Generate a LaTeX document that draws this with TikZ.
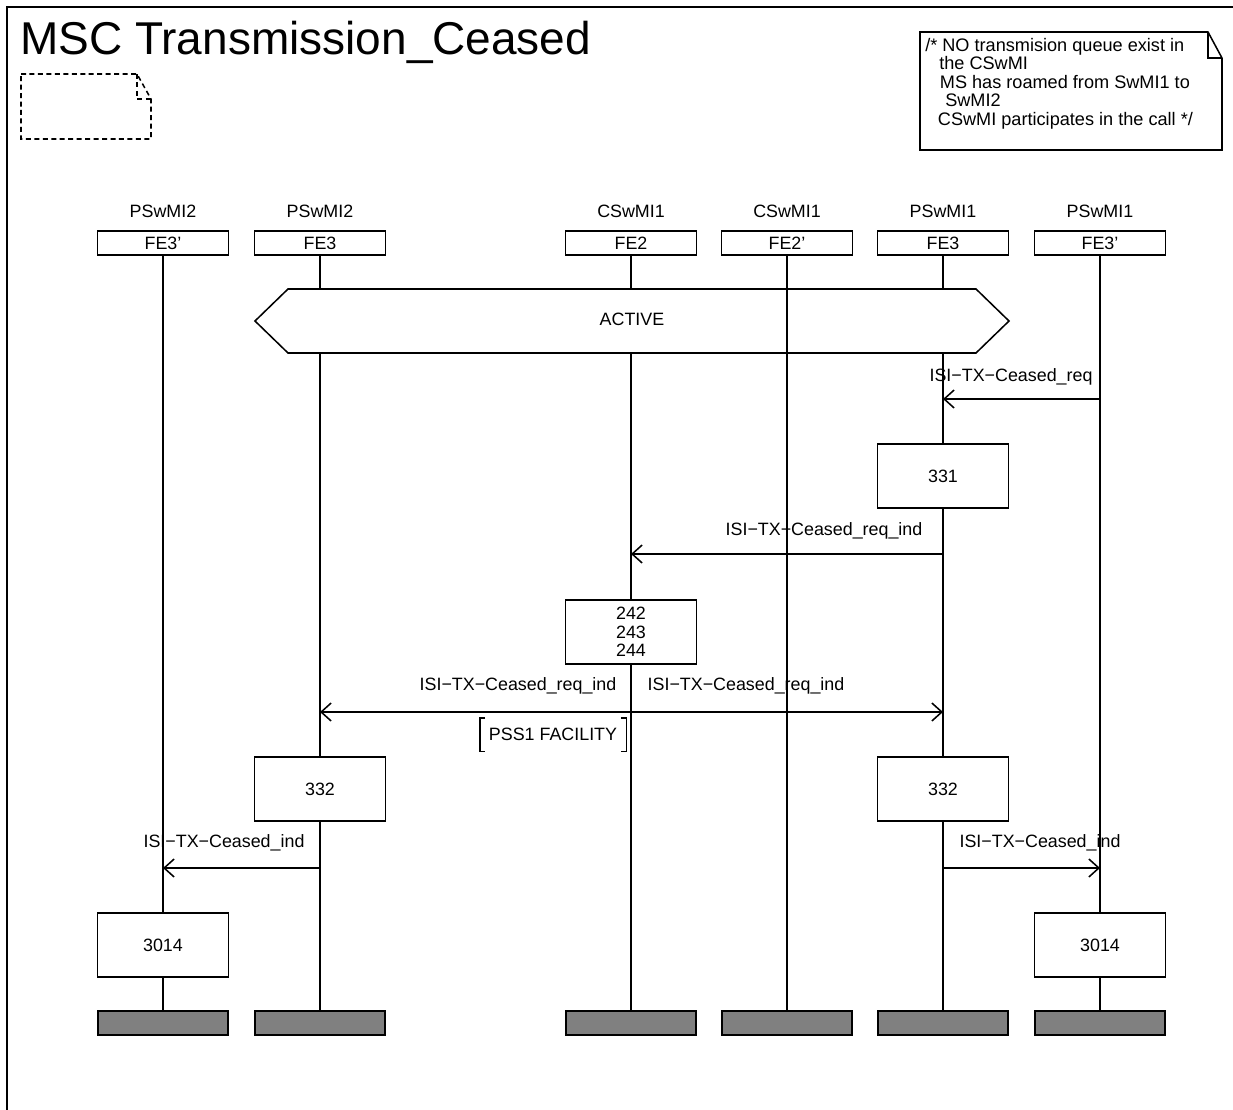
\documentclass[tikz,border=0pt]{standalone}
\usepackage{fontspec}
\setmainfont{Liberation Sans}
\usetikzlibrary{arrows.meta}
\begin{document}
\begin{tikzpicture}[x=0.75pt,y=-0.75pt,
  every node/.style={font=\fontsize{13.4}{13.8}\selectfont, inner sep=0pt},
  ln/.style={line width=1.15pt},
  hdr/.style={draw, line width=1.15pt, minimum width=98pt, minimum height=18pt},
  proc/.style={draw, line width=1.15pt, fill=white, minimum width=98pt, minimum height=48pt, align=center},
  endbox/.style={draw, line width=1.3pt, fill=endgray, minimum width=98pt, minimum height=18pt},
  lbl/.style={anchor=base},
  tip/.style={-{Straight Barb[length=7.5pt,width=13.5pt,line width=1.15pt]}},
  tipboth/.style={{Straight Barb[length=7.5pt,width=13.5pt,line width=1.15pt]}-{Straight Barb[length=7.5pt,width=13.5pt,line width=1.15pt]}}
]
\definecolor{endgray}{HTML}{808080}
\useasboundingbox (0,0) rectangle (1233,1110);
% frame
\draw[ln] (7,1110) -- (7,7) -- (1233,7);
% title
\node[anchor=base west, font=\fontsize{34.5}{36}\selectfont] (title) at (20,55) {MSC Transmission\_Ceased};
% dashed note
\draw[ln, dash pattern=on 3.75pt off 2.6pt] (21,74) -- (137,74) -- (151,99) -- (151,139) -- (21,139) -- cycle;
\draw[ln, dash pattern=on 3.75pt off 2.6pt] (137,74) -- (137,99) -- (151,99);
% comment
\draw[ln] (920,32) -- (1208,32) -- (1222,58) -- (1222,150) -- (920,150) -- cycle;
\draw[ln] (1208,32) -- (1208,58) -- (1222,58);
\node[anchor=north west, align=left, font=\fontsize{13.6}{13.8}\selectfont] (cmt) at (925,38)
  {/* NO transmision queue exist in\\
   \hspace*{10.5pt}the CSwMI\\
   \hspace*{11pt}MS has roamed from SwMI1 to\\
   \hspace*{15pt}SwMI2\\
   \hspace*{9.5pt}CSwMI participates in the call */};
% instance heads
\foreach \n/\x/\t/\f in {1/163/PSwMI2/FE3', 2/320/PSwMI2/FE3, 3/631/CSwMI1/FE2, 4/787/CSwMI1/FE2', 5/943/PSwMI1/FE3, 6/1100/PSwMI1/FE3'} {
  \node[lbl] (t\n) at (\x,217) {\t};
  \node[hdr] (h\n) at (\x,243) {\f};
  \node[endbox] (e\n) at (\x,1023) {};
}
% lifelines
\foreach \n in {1,...,6} { \draw[ln] (h\n.south) -- (e\n.north); }
% ACTIVE condition
\draw[ln, fill=white] (255,321) -- (288,289) -- (976,289) -- (1009,321) -- (976,353) -- (288,353) -- cycle;
\node (active) at (632,319) {ACTIVE};
\draw[ln] (787,289) -- (787,353);
% message 1
\coordinate (m1a) at (1100,399); \coordinate (m1b) at (943,399);
\draw[ln, tip] (m1a) -- (m1b);
\node[lbl] (l1) at (1011,381) {ISI−TX−Ceased\_req};
% 331
\node[proc] (p331) at (943,476) {331};
% message 3
\coordinate (m3a) at (943,554); \coordinate (m3b) at (631,554);
\draw[ln, tip] (m3a) -- (m3b);
\node[lbl] (l3) at (824,535) {ISI−TX−Ceased\_req\_ind};
% 242 243 244
\node[proc, font=\fontsize{13.4}{13.9}\selectfont] (p242) at (631,632) {242\\243\\244};
% message 5
\coordinate (m5a) at (320,712); \coordinate (m5b) at (943,712);
\draw[ln, tipboth] (m5a) -- (m5b);
\node[lbl] (l5a) at (518,690) {ISI−TX−Ceased\_req\_ind};
\node[lbl] (l5b) at (746,690) {ISI−TX−Ceased\_req\_ind};
\node[minimum width=109.5pt, minimum height=24.75pt] (pss) at (553,734.5) {PSS1 FACILITY};
\draw[ln] ([xshift=4pt]pss.north west) -- (pss.north west) -- (pss.south west) -- ([xshift=4pt]pss.south west);
\draw[ln] ([xshift=-4pt]pss.north east) -- (pss.north east) -- (pss.south east) -- ([xshift=-4pt]pss.south east);
% 332
\node[proc] (p332a) at (320,789) {332};
\node[proc] (p332b) at (943,789) {332};
% message 7
\coordinate (m7a) at (320,868); \coordinate (m7b) at (163,868);
\draw[ln, tip] (m7a) -- (m7b);
\node[lbl] (l7a) at (224,847) {ISI−TX−Ceased\_ind};
\coordinate (m7c) at (943,868); \coordinate (m7d) at (1100,868);
\draw[ln, tip] (m7c) -- (m7d);
\node[lbl] (l7b) at (1040,847) {ISI−TX−Ceased\_ind};
% 3014
\node[proc] (p3014a) at (163,945) {3014};
\node[proc] (p3014b) at (1100,945) {3014};
\end{tikzpicture}
\end{document}
